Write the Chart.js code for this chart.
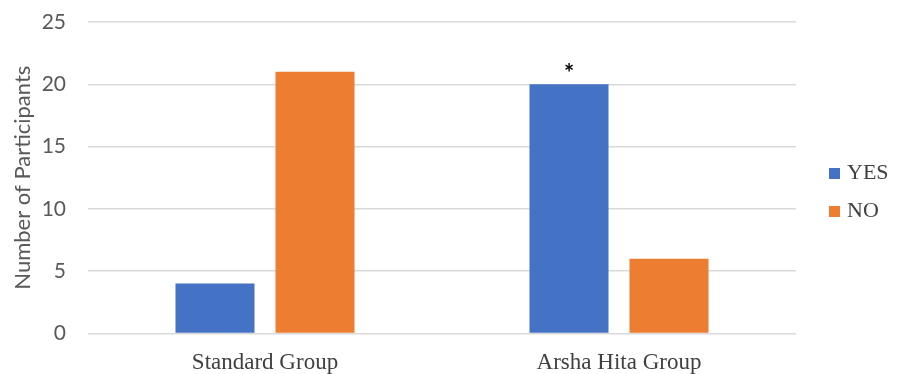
<!DOCTYPE html>
<html lang="en">
<head>
    <meta charset="UTF-8">
    <title>Number of Participants</title>
    <script src="https://cdn.jsdelivr.net/npm/chart.js"></script>
    <style>
        html, body { margin: 0; padding: 0; background: #fff; }
        #wrap { width: 898px; height: 374px; position: relative; }
        #legend { position: absolute; left: 829px; top: 157px; font: 22px "Liberation Serif", serif; color: #404040; }
        #legend div { height: 38px; line-height: 30px; white-space: nowrap; }
        #legend span { display: inline-block; width: 11px; height: 11px; margin-right: 7px; }
    </style>
</head>
<body>
    <div id="wrap"><canvas id="chart"></canvas><div id="legend"></div></div>
    <script>
        const categories = ['Standard Group', 'Arsha Hita Group'];
        const yesValues = [4, 20];
        const noValues = [21, 6];
        const seriesNames = ['YES', 'NO'];
        const seriesColors = ['#4472c4', '#ed7d31'];
        const starMarks = [null, '*'];   // significance mark above YES bars

        const sans = 'Lato, "Liberation Sans", sans-serif';
        const serif = '"Liberation Serif", "DejaVu Serif", serif';

        // draws the significance star over the YES bar
        const starPlugin = {
            id: 'starPlugin',
            afterDatasetsDraw(chart) {
                const meta = chart.getDatasetMeta(0);
                const ctx = chart.ctx;
                ctx.save();
                ctx.fillStyle = '#000';
                ctx.font = 'bold 24px ' + sans;
                ctx.textAlign = 'center';
                ctx.textBaseline = 'middle';
                meta.data.forEach((bar, i) => {
                    if (starMarks[i]) ctx.fillText(starMarks[i], bar.x, bar.y - 10);
                });
                ctx.restore();
            }
        };

        const chart = new Chart(document.getElementById('chart'), {
            type: 'bar',
            data: {
                labels: categories,
                datasets: [
                    { label: seriesNames[0], data: yesValues, backgroundColor: seriesColors[0] },
                    { label: seriesNames[1], data: noValues, backgroundColor: seriesColors[1] }
                ]
            },
            options: {
                responsive: true,
                maintainAspectRatio: false,
                animation: false,
                categoryPercentage: 0.565,
                barPercentage: 0.79,
                layout: { padding: { top: 22, right: 102, bottom: -11, left: 0 } },
                plugins: {
                    tooltip: { enabled: false },
                    legend: { display: false }
                },
                scales: {
                    x: {
                        grid: { display: false },
                        border: { display: false },
                        ticks: { color: '#404040', font: { family: serif, size: 23 }, padding: 8 }
                    },
                    y: {
                        min: 0,
                        max: 25,
                        afterFit(scale) {
                            scale.width = 88;
                            scale.paddingTop = 0;
                        },
                        ticks: { stepSize: 5, color: '#595959', font: { family: sans, size: 21 }, padding: 22 },
                        grid: { color: '#d9d9d9', lineWidth: 1.5, drawTicks: false },
                        border: { display: false },
                        title: {
                            display: true,
                            text: 'Number of Participants',
                            color: '#595959',
                            font: { family: sans, size: 22 },
                            padding: { top: 10, bottom: 3 }
                        }
                    }
                }
            },
            plugins: [starPlugin]
        });

        // html legend built from the datasets
        const legendEl = document.getElementById('legend');
        chart.data.datasets.forEach(ds => {
            const row = document.createElement('div');
            const box = document.createElement('span');
            box.style.background = ds.backgroundColor;
            row.appendChild(box);
            row.appendChild(document.createTextNode(ds.label));
            legendEl.appendChild(row);
        });
    </script>
</body>
</html>
